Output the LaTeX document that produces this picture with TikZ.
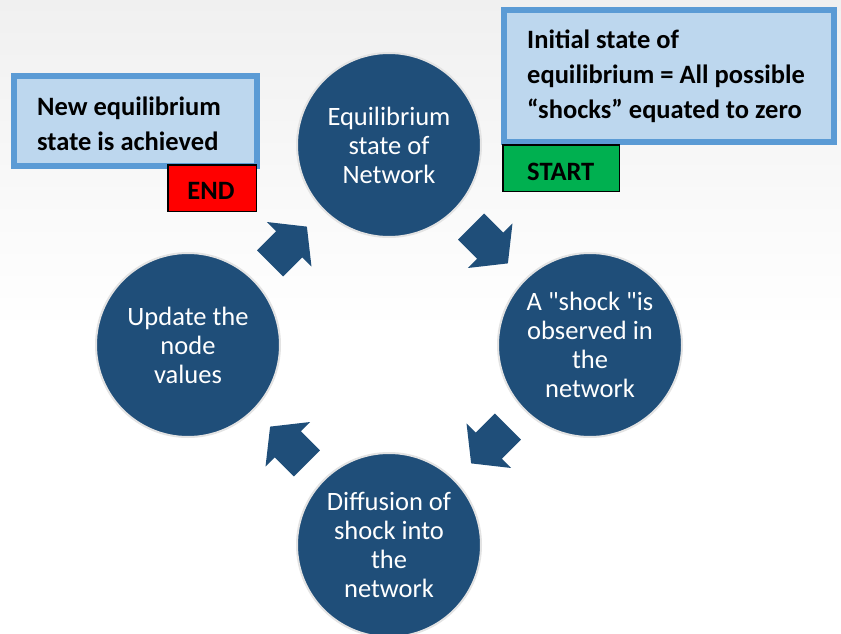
\documentclass[tikz,border=0pt]{standalone}
\usepackage{fontspec}
\setmainfont{Carlito}
\newfontfamily\cycfont[Ligatures=TeXOff]{Carlito}
\usetikzlibrary{calc}
\definecolor{cyc}{RGB}{31,78,121}
\definecolor{boxfill}{RGB}{189,215,238}
\definecolor{boxline}{RGB}{91,155,213}
\definecolor{endred}{RGB}{255,0,0}
\definecolor{startgreen}{RGB}{0,176,80}
\definecolor{bggray}{RGB}{240,240,240}
\newcommand\cycarrow[2]{\fill[cyclearrow, shift={(#1)}, rotate=#2] (-26,-18.5) -- (1,-18.5) -- (1,-31.5) -- (26,0) -- (1,31.5) -- (1,18.5) -- (-26,18.5) -- cycle;}
\begin{document}
\begin{tikzpicture}[x=1pt,y=-1pt,
  cyclenode/.style={circle, fill=cyc, draw=gray!22, line width=2pt, minimum size=184pt, inner sep=0pt, text=white, align=center, font=\cycfont\fontsize{26.5}{29}\selectfont},
  infobox/.style={fill=boxfill, draw=boxline, line width=6pt, outer sep=0pt, inner sep=0pt, anchor=north west},
  tagbox/.style={draw=black, line width=1.5pt, outer sep=0pt, inner sep=0pt, anchor=north west},
  boxtext/.style={anchor=base west, align=left, inner sep=0pt, font=\bfseries\fontsize{26.5}{35}\selectfont},
  tagtext/.style={anchor=base, inner sep=0pt, font=\bfseries\fontsize{26.5}{30}\selectfont},
  cyclearrow/.style={fill=cyc}]
\useasboundingbox (0,0) rectangle (841,634);
\fill[white] (0,0) rectangle (841,634);
\shade[top color=bggray, bottom color=white] (0,0) rectangle (841,330);

% cycle nodes
\node[cyclenode] (top) at (389,145) {Equilibrium\\state of\\Network};
\node[cyclenode] (right) at (590,345) {A "shock "is\\observed in\\the\\network};
\node[cyclenode] (bottom) at (389,545) {Diffusion of\\shock into\\the\\network};
\node[cyclenode] (left) at (188,345) {Update the\\node\\values};

% arrows between nodes
\coordinate (m1) at ($(left)!0.5!(top)$);
\coordinate (m2) at ($(top)!0.5!(right)$);
\coordinate (m3) at ($(right)!0.5!(bottom)$);
\coordinate (m4) at ($(bottom)!0.5!(left)$);
\cycarrow{m1}{45}
\cycarrow{m2}{-45}
\cycarrow{m3}{-135}
\cycarrow{m4}{135}

% info boxes (text anchored at the baseline of its last line)
\node[infobox, minimum width=243pt, minimum height=90pt] (newbox) at (14,76) {};
\node[boxtext] (newtext) at (37,150) {New equilibrium\\state is achieved};
\node[infobox, minimum width=330pt, minimum height=132pt] (initbox) at (504,10) {};
\node[boxtext] (inittext) at (527,118) {Initial state of\\equilibrium = All possible\\“shocks” equated to zero};

% tags
\node[tagbox, fill=endred, minimum width=88.5pt, minimum height=46.5pt] (endbox) at (167.75,164.75) {};
\node[tagtext] (endtext) at (211,199) {END};
\node[tagbox, fill=startgreen, minimum width=116.5pt, minimum height=46.5pt] (startbox) at (502.75,144.75) {};
\node[tagtext, anchor=base west] (starttext) at (527,180) {START};
\end{tikzpicture}
\end{document}
